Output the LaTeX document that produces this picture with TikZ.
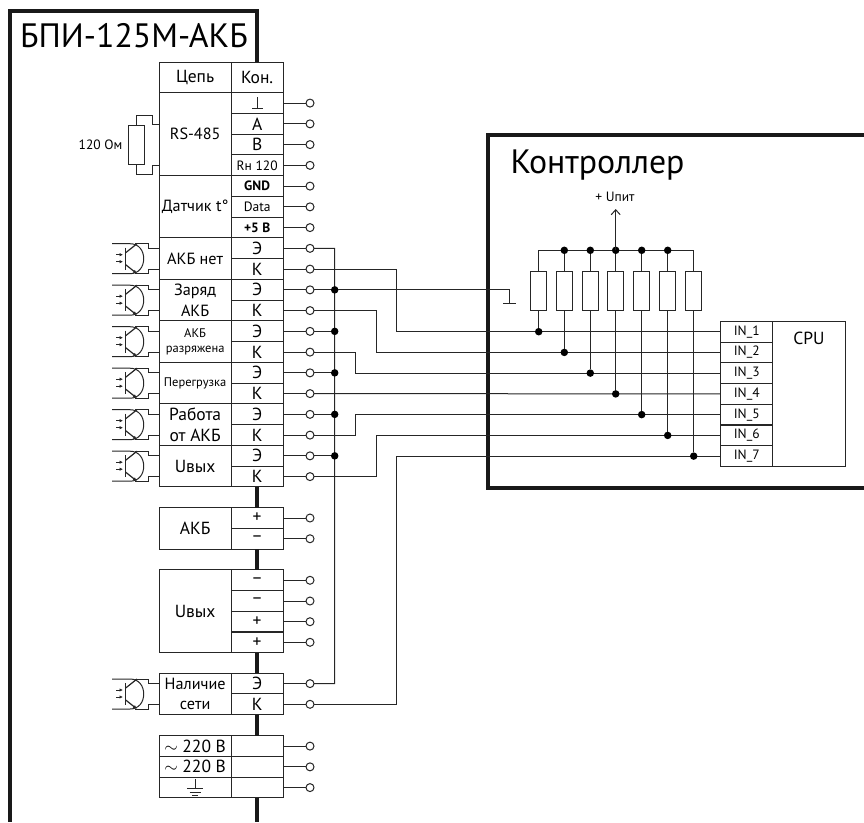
\documentclass[tikz,border=0pt]{standalone}
\usepackage{fontspec}
\setmainfont{PT Sans}
\usetikzlibrary{arrows.meta}
\newcommand{\fbig}{\fontsize{33.8}{33.8}\selectfont}
\newcommand{\fmid}{\fontsize{17.5}{20.75}\selectfont}
\newcommand{\fname}{\fontsize{16.2}{20.75}\selectfont}
\newcommand{\fsmall}{\fontsize{13.5}{20.75}\selectfont}
\newcommand{\ftiny}{\fontsize{12.5}{14.5}\selectfont}
\tikzset{
  wire/.style={line width=1pt, color=black!85},
  frame/.style={line width=4pt, color=black!90},
  cell/.style={draw, wire, rectangle, inner sep=0pt, outer sep=0pt, align=center, text=black, font=\fmid},
  termcell/.style={cell, minimum width=51.8pt, minimum height=20.75pt},
  namecell/.style={cell, minimum width=72.3pt},
  terminal/.style={draw, wire, circle, fill=white, inner sep=0pt, outer sep=0pt, minimum size=8pt},
  dot/.style={fill=black, circle, inner sep=0pt, outer sep=0pt, minimum size=7.5pt},
  res/.style={draw, wire, rectangle, inner sep=0pt, outer sep=0pt, minimum width=15.5pt, minimum height=38.6pt},
  incell/.style={termcell, font=\fontsize{13.5}{14}\selectfont}
}
\begin{document}
\begin{tikzpicture}[x=1pt, y=-1pt]
  \useasboundingbox (0,0) rectangle (864,822);

  \node[namecell, minimum height=30.7pt] (chain) at (195.15, 77.35) {Цепь};
  \node[termcell, minimum height=30.7pt] (kon) at (257.15, 77.35) {Кон.};
  \node[namecell, minimum height=83pt, font=\fname] (rs) at (195.15, 134.2) {RS-485};
  \node[namecell, minimum height=62.25pt, font=\fname] (temp) at (195.15, 206.85) {Датчик t°};
  \node[namecell, minimum height=41.5pt, font=\fname] (n1) at (195.15, 258.7) {АКБ нет};
  \node[namecell, minimum height=41.5pt, font=\fname] (n2) at (195.15, 300.2) {Заряд\\АКБ};
  \node[namecell, minimum height=41.5pt, font=\ftiny] (n3) at (195.15, 341.7) {АКБ\\разряжена};
  \node[namecell, minimum height=41.5pt, font=\ftiny] (n4) at (195.15, 383.2) {Перегрузка};
  \node[namecell, minimum height=41.5pt] (n5) at (195.15, 424.7) {Работа\\от АКБ};
  \node[namecell, minimum height=41.5pt] (n6) at (195.15, 466.2) {Uвых};
  \node[namecell, minimum height=41.5pt] (n7) at (195.15, 528.5) {АКБ};
  \node[namecell, minimum height=83pt] (n8) at (195.15, 611.2) {Uвых};
  \node[namecell, minimum height=41.5pt, font=\fname] (n9) at (195.15, 694) {Наличие\\сети};
  \node[namecell, minimum height=20.75pt] (ac1) at (195.15, 746.1) {$\sim$ 220 В};
  \node[namecell, minimum height=20.75pt] (ac2) at (195.15, 766.85) {$\sim$ 220 В};
  \node[namecell, minimum height=20.75pt] (pe) at (195.15, 787.6) {};

  \foreach \n/\lbl [evaluate=\n as \yy using 103.1+20.75*\n] in {0/{}, 1/А, 2/В, 3/{\fsmall Rн 120}, 4/{\fsmall\bfseries GND},
    5/{\fsmall Data}, 6/{\fsmall\bfseries +5 В}, 7/Э, 8/К, 9/Э, 10/К, 11/Э, 12/К, 13/Э, 14/К, 15/Э, 16/К, 17/Э, 18/К}
  {
  \node[termcell] (c\n) at (257.15, \yy) {\lbl};
  \node[terminal] (t\n) at (310, \yy) {};
  \draw[wire] (c\n.east) -- (t\n.west);
  }
  \foreach \n/\yy/\lbl in {19/518/+, 20/538.75/--, 21/580.3/--, 22/601/--, 23/621.7/+, 24/642.3/+,
    25/683.6/Э, 26/704.3/К, 27/746.1/{}, 28/766.85/{}, 29/787.6/{}}
  {
  \node[termcell] (c\n) at (257.15, \yy) {\lbl};
  \node[terminal] (t\n) at (310, \yy) {};
  \draw[wire] (c\n.east) -- (t\n.west);
  }

  \draw[frame] (kon.north) |- (9.5, 10.5) -- (9.5, 822);
  \draw[frame] (c18.south) -- (c19.north);
  \draw[frame] (c20.south) -- (c21.north);
  \draw[frame] (c24.south) -- (c25.north);
  \draw[frame] (c26.south) -- (c27.north);
  \coordinate (spineend) at (257.15, 822);
  \draw[frame] (c29.south) -- (spineend);
  \draw[frame] (864, 134.7) -| (488, 487.7) -- (864, 487.7);

  \node[font=\fbig] (title) at (134, 36) {БПИ-125М-АКБ};
  \node[font=\fbig] (ctrl) at (597.5, 165) {Контроллер};

  \draw[wire] (252, 108.3) -- (263.3, 108.3);
  \draw[wire] (257.6, 97) -- (257.6, 108.3);
  \draw[wire] (195, 779) -- (195, 788.3);
  \draw[wire] (187.3, 788.3) -- (202.7, 788.3);
  \draw[wire] (189.5, 792) -- (200.5, 792);
  \draw[wire] (192, 795.6) -- (198, 795.6);

  \node[res] (rterm) at (136.5, 144.8) {};
  \node[anchor=east, inner sep=0pt, font=\fontsize{13.5}{14}\selectfont] (rlabel) at (122.5, 145) {120 Ом};
  \draw[wire] (159, 124) -- (152.7, 124) -- (152.7, 115.3) -- (136.5, 115.3) -- (rterm.north);
  \draw[wire] (159, 165.7) -- (152.7, 165.7) -- (152.7, 174.3) -- (136.5, 174.3) -- (rterm.south);

  \foreach \cc in {258.7, 300.2, 341.7, 383.2, 424.7, 466.2, 694}
  {
  \draw[wire] (112, \cc-15) -- (130, \cc-15) .. controls (139, \cc-15) and (143.7, \cc-8) .. (143.7, \cc)
    .. controls (143.7, \cc+8) and (139, \cc+15) .. (130, \cc+15) -- (112, \cc+15);
  \draw[wire] (135, \cc-15) -- (148.3, \cc-15) -- (148.3, \cc-10.4) -- (159, \cc-10.4);
  \draw[wire] (135, \cc+15) -- (148.3, \cc+15) -- (148.3, \cc+10.4) -- (159, \cc+10.4);
  \draw[wire, line width=1.4pt] (125.7, \cc-11) -- (125.7, \cc+11);
  \draw[wire, line width=1.2pt] (125.7, \cc-6) -- (137, \cc-15);
  \draw[wire, line width=1.2pt, -{Latex[length=4pt, width=3.5pt]}] (125.7, \cc+6) -- (137, \cc+15);
  \draw[wire, -{Latex[length=3.5pt, width=3.5pt]}] (116, \cc-4) -- (123, \cc-4);
  \draw[wire, -{Latex[length=3.5pt, width=3.5pt]}] (116, \cc+3) -- (123, \cc+3);
  }

  \node[termcell, incell] (in1) at (746.7, 331.7) {IN\_1};
  \node[termcell, incell] (in2) at (746.7, 352.4) {IN\_2};
  \node[termcell, incell] (in3) at (746.7, 373.1) {IN\_3};
  \node[termcell, incell] (in4) at (746.7, 393.9) {IN\_4};
  \node[termcell, incell] (in5) at (746.7, 414.6) {IN\_5};
  \node[termcell, incell] (in6) at (746.7, 435.4) {IN\_6};
  \node[termcell, incell] (in7) at (746.7, 456.1) {IN\_7};
  \node[cell, minimum width=72.3pt, minimum height=145pt] (cpu) at (808.85, 393.9) {};
  \node[font=\fmid] (cpulabel) at (809, 338) {CPU};

  \coordinate (bustop) at (334.7, 248.4);
  \coordinate (busend) at (334.7, 683.6);
  \draw[wire] (t7.east) -- (bustop) -- (busend) -- (t25.east);
  \foreach \n/\yy in {9/289.85, 11/331.35, 13/372.85, 15/414.35, 17/455.85}
  {
  \node[dot] (d\n) at (334.7, \yy) {};
  \draw[wire] (t\n.east) -- (d\n);
  }

  \coordinate (gr) at (509.3, 303.3);
  \draw[wire] (d9) -| (gr);
  \draw[wire] (503, 303.3) -- (516, 303.3);

  \draw[wire] (t8.east) -| (396.7, 331.7) -- (in1.west);
  \draw[wire] (t10.east) -| (376, 352.4) -- (in2.west);
  \draw[wire] (t12.east) -| (355.5, 373.1) -- (in3.west);
  \draw[wire] (t14.east) -- (in4.west);
  \draw[wire] (t16.east) -| (355.5, 414.6) -- (in5.west);
  \draw[wire] (t18.east) -| (376, 435.4) -- (in6.west);
  \draw[wire] (t26.east) -| (396.7, 456.1) -- (in7.west);

  \foreach \i/\xx/\yy in {1/538.7/331.7, 2/564.3/352.4, 3/590.3/373.1, 4/615.7/393.9, 5/641.7/414.6, 6/667.7/435.4, 7/693.7/456.1}
  {
  \node[res] (r\i) at (\xx, 291) {};
  \node[dot] (j\i) at (\xx, \yy) {};
  \draw[wire] (r\i.south) -- (j\i);
  \coordinate (top\i) at (\xx, 250.3);
  \draw[wire] (r\i.north) -- (top\i);
  }
  \draw[wire] (top1) -- (top7);
  \foreach \i in {2,...,6}
  {
  \node[dot] at (top\i) {};
  }
  \coordinate (supply) at (615.7, 209);
  \draw[wire, -{Straight Barb[length=5pt, width=9pt]}] (top4) -- (supply);
  \node[font=\fontsize{13.5}{14}\selectfont] (upit) at (615, 197) {+ Uпит};
\end{tikzpicture}
\end{document}
